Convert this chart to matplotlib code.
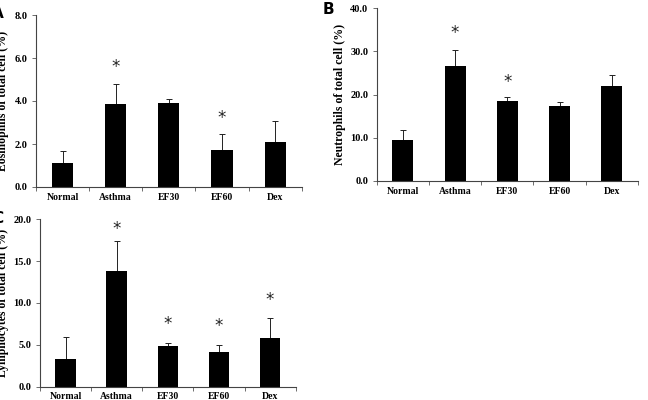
import numpy as np
import matplotlib.pyplot as plt

groups = ['Normal', 'Asthma', 'EF30', 'EF60', 'Dex']

# panel A
a_mean = [1.12, 3.88, 3.93, 1.73, 2.08]
a_err = [0.57, 0.92, 0.18, 0.72, 1.0]
a_star = [None, 5.57, None, 3.23, None]

# panel B
b_mean = [9.5, 26.6, 18.6, 17.4, 22.0]
b_err = [2.3, 3.7, 0.8, 0.8, 2.5]
b_star = [None, 34.2, 23.0, None, None]

# panel C
c_mean = [3.3, 13.8, 4.86, 4.2, 5.86]
c_err = [2.6, 3.6, 0.4, 0.8, 2.4]
c_star = [None, 18.9, 7.5, 7.25, 10.36]

serif = 'Liberation Serif'


def panel(ax, mean, err, star, ymax, step, ylab=None):
    x = np.arange(len(groups))
    ax.bar(x, mean, width=0.4, color='black', zorder=2)
    ax.errorbar(x, mean, yerr=[np.zeros(len(err)), err], fmt='none',
                ecolor='#222222', elinewidth=0.7, capsize=2.5, capthick=0.7, zorder=1)
    for i, s in enumerate(star):
        if s is not None:
            ax.text(x[i], s, '*', ha='center', va='center', fontsize=12,
                    family='DejaVu Sans', color='#222222')
    ax.set_xlim(-0.5, len(groups) - 0.5)
    ax.set_ylim(0, ymax)
    ax.set_yticks(np.arange(0, ymax + step / 2, step))
    ax.set_yticklabels(['%.1f' % v for v in np.arange(0, ymax + step / 2, step)],
                       family=serif, fontweight='bold', fontsize=7.5)
    ax.set_xticks(x)
    ax.set_xticklabels(groups, family=serif, fontweight='bold', fontsize=7)
    ax.set_xticks(np.arange(-0.5, len(groups), 1), minor=True)
    ax.tick_params(axis='x', which='major', length=0, pad=4)
    ax.tick_params(axis='x', which='minor', length=3, width=0.6, color='#555555')
    ax.tick_params(axis='y', length=3, width=0.6, color='#555555', pad=3)
    for side in ['top', 'right']:
        ax.spines[side].set_visible(False)
    for side in ['left', 'bottom']:
        ax.spines[side].set_linewidth(0.8)
        ax.spines[side].set_color('#444444')
    if ylab:
        ax.set_ylabel(ylab, family=serif, fontweight='bold', fontsize=8.5, labelpad=3)


fig = plt.figure(figsize=(6.48, 4.0), dpi=100)

axA = fig.add_axes([36 / 648, 1 - 187 / 400, (301.7 - 36) / 648, (187 - 15) / 400])
panel(axA, a_mean, a_err, a_star, 8.0, 2.0)

axB = fig.add_axes([376.7 / 648, 1 - 181 / 400, (638 - 376.7) / 648, (181 - 8.3) / 400])
panel(axB, b_mean, b_err, b_star, 40.0, 10.0, 'Neutrophils of total cell (%)')

axC = fig.add_axes([40 / 648, 1 - 386.7 / 400, (295.7 - 40) / 648, (386.7 - 219.3) / 400])
panel(axC, c_mean, c_err, c_star, 20.0, 5.0)

# labels cut off at the left edge in the original
fig.text(3 / 648, 1 - 101 / 400, 'Eosinophils of total cell (%)', rotation=90,
         ha='center', va='center', family=serif, fontweight='bold', fontsize=8.5)
fig.text(3 / 648, 1 - 303 / 400, 'Lymphocytes of total cell (%)', rotation=90,
         ha='center', va='center', family=serif, fontweight='bold', fontsize=8.5)

fig.text(-8 / 648, 1 - 14 / 400, 'A', ha='left', va='center', fontsize=11,
         fontweight='bold', family='DejaVu Sans')
fig.text(323 / 648, 1 - 10 / 400, 'B', ha='left', va='center', fontsize=11,
         fontweight='bold', family='DejaVu Sans')
fig.text(-8 / 648, 1 - 218 / 400, 'C', ha='left', va='center', fontsize=11,
         fontweight='bold', family='DejaVu Sans')

fig.savefig('out.png', dpi=100)
